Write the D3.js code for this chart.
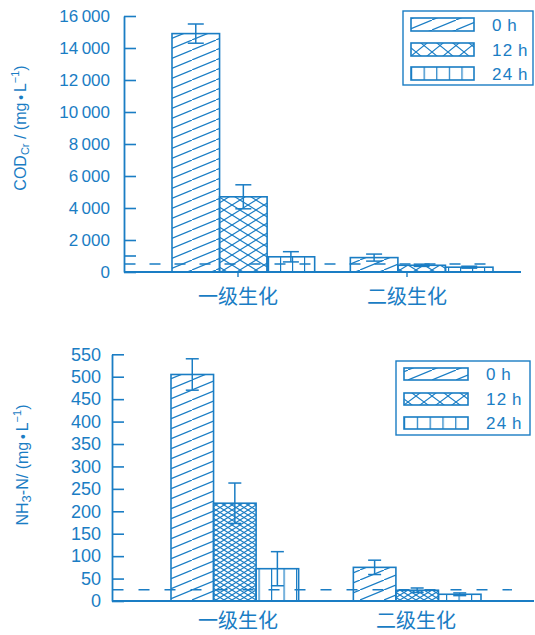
<!DOCTYPE html>
<html>
<head>
<meta charset="utf-8">
<script src="https://cdn.jsdelivr.net/npm/d3@7/dist/d3.min.js"></script>
<style>
  body { margin: 0; background: #fff; }
  svg { display: block; }
  text { fill: #1a7dc4; }
</style>
</head>
<body>
<div id="chart"></div>
<script>
// data
var groups = ["一级生化", "二级生化"];
var times = ["0h", "12h", "24h"];

// COD_Cr (mg/L), per series: [一级, 二级]
var cod0h = [14900, 900];
var cod12h = [4700, 420];
var cod24h = [950, 300];
var codErr0h = [600, 220];
var codErr12h = [750, 70];
var codErr24h = [320, 60];
var codTicks = [0, 2000, 4000, 6000, 8000, 10000, 12000, 14000, 16000];
var codMinorTicks = [1000];
var codLimit = 500;

// NH3-N (mg/L)
var nh0h = [505, 75];
var nh12h = [218, 24];
var nh24h = [72, 15];
var nhErr0h = [35, 16];
var nhErr12h = [45, 5];
var nhErr24h = [38, 3];
var nhTicks = [0, 50, 100, 150, 200, 250, 300, 350, 400, 450, 500, 550];
var nhLimit = 25;

var blue = "#1a7dc4";
var W = 535, H = 635;

var svg = d3.select("#chart").append("svg")
  .attr("width", W)
  .attr("height", H);

var defs = svg.append("defs");

// hatch patterns
function diagPattern(id, w, h) {
  var p = defs.append("pattern").attr("id", id)
    .attr("patternUnits", "userSpaceOnUse")
    .attr("width", w).attr("height", h);
  p.append("line").attr("x1", 0).attr("y1", h).attr("x2", w).attr("y2", 0)
    .attr("stroke", blue).attr("stroke-width", 1.2);
}
function crossPattern(id, w, h) {
  var p = defs.append("pattern").attr("id", id)
    .attr("patternUnits", "userSpaceOnUse")
    .attr("width", w).attr("height", h);
  p.append("line").attr("x1", 0).attr("y1", 0).attr("x2", w).attr("y2", h)
    .attr("stroke", blue).attr("stroke-width", 1.1);
  p.append("line").attr("x1", 0).attr("y1", h).attr("x2", w).attr("y2", 0)
    .attr("stroke", blue).attr("stroke-width", 1.1);
}
function vertPattern(id, w, h, x0) {
  var p = defs.append("pattern").attr("id", id)
    .attr("patternUnits", "userSpaceOnUse")
    .attr("x", x0)
    .attr("width", w).attr("height", h);
  p.append("line").attr("x1", 0.6).attr("y1", 0).attr("x2", 0.6).attr("y2", h)
    .attr("stroke", blue).attr("stroke-width", 1.2);
}

var thin = d3.formatLocale({decimal: ".", thousands: "\u2009", grouping: [3], currency: ["", ""]});
var codFmt = thin.format(",d");

var panels = [
  {
    key: "cod",
    means: [cod0h, cod12h, cod24h],
    errs: [codErr0h, codErr12h, codErr24h],
    ticks: codTicks, minor: codMinorTicks, fmt: codFmt, limit: codLimit,
    yDomain: [0, 16000], yRange: [272, 16],
    axisX: 124, xEnd: 521, barRange: [172, 493], padInner: 0.2,
    tickFont: 17, tickPad: 14, dashEnd: 495, dash: "11,14",
    labelPos: [238, 407], labelBase: 304, xTicks: true,
    cross: [16, 10], vert: 12, capW: 16,
    legend: {x: 403, y: 11, w: 130, h: 74, swX: 411, swW: 63, swH: 13, rows: [18, 43, 67], textX: 492},
    title: {x: 26, y: 128}
  },
  {
    key: "nh",
    means: [nh0h, nh12h, nh24h],
    errs: [nhErr0h, nhErr12h, nhErr24h],
    ticks: nhTicks, minor: [], fmt: d3.format("d"), limit: nhLimit,
    yDomain: [0, 550], yRange: [601, 354.3],
    axisX: 112, xEnd: 534, barRange: [171, 481], padInner: 0.3,
    tickFont: 18, tickPad: 11, dashEnd: 512, dash: "11,15",
    labelPos: [238, 416], labelBase: 628, xTicks: false,
    cross: [8, 5], vert: 12.5, capW: 13,
    legend: {x: 396, y: 361, w: 134, h: 74, swX: 404, swW: 64, swH: 12, rows: [368, 393, 417], textX: 486},
    title: {x: 28, y: 465}
  }
];

panels.forEach(function(p) {
  var y = d3.scaleLinear().domain(p.yDomain).range(p.yRange);
  var x0 = d3.scaleBand().domain(groups).range(p.barRange)
    .paddingInner(p.padInner).paddingOuter(0);
  var x1 = d3.scaleBand().domain(times).range([0, x0.bandwidth()]);

  diagPattern(p.key + "-p0", 24, 10);
  crossPattern(p.key + "-p1", p.cross[0], p.cross[1]);
  vertPattern(p.key + "-p2", p.vert, 10, p.barRange[0]);
  // legend swatch patterns
  diagPattern(p.key + "-l0", 24, 10);
  crossPattern(p.key + "-l1", 16, p.legend.swH);
  vertPattern(p.key + "-l2", p.legend.swW / 5, 10, p.legend.swX);

  var g = svg.append("g");

  var rows = [];
  groups.forEach(function(gr, i) {
    times.forEach(function(t, j) {
      rows.push({g: gr, t: t, j: j, v: p.means[j][i], e: p.errs[j][i]});
    });
  });

  // bars
  g.selectAll("rect.bar")
    .data(rows)
    .enter()
    .append("rect")
    .attr("class", "bar")
    .attr("x", function(d) { return x0(d.g) + x1(d.t); })
    .attr("y", function(d) { return y(d.v); })
    .attr("width", x1.bandwidth())
    .attr("height", function(d) { return y(0) - y(d.v); })
    .attr("fill", function(d) { return "url(#" + p.key + "-p" + d.j + ")"; })
    .attr("stroke", blue)
    .attr("stroke-width", 1.6);

  // limit line
  g.append("line")
    .attr("x1", p.axisX + 0.5).attr("x2", p.dashEnd)
    .attr("y1", y(p.limit)).attr("y2", y(p.limit))
    .attr("stroke", blue).attr("stroke-width", 1.4)
    .attr("stroke-dasharray", p.dash);

  // error bars
  var eb = g.selectAll("g.err")
    .data(rows)
    .enter()
    .append("g")
    .attr("class", "err")
    .attr("transform", function(d) { return "translate(" + (x0(d.g) + x1(d.t) + x1.bandwidth() / 2) + ",0)"; });
  eb.append("line")
    .attr("y1", function(d) { return y(d.v - d.e); })
    .attr("y2", function(d) { return y(d.v + d.e); })
    .attr("stroke", blue).attr("stroke-width", 1.5);
  eb.append("line")
    .attr("x1", -p.capW / 2).attr("x2", p.capW / 2)
    .attr("y1", function(d) { return y(d.v + d.e); })
    .attr("y2", function(d) { return y(d.v + d.e); })
    .attr("stroke", blue).attr("stroke-width", 1.5);
  eb.append("line")
    .attr("x1", -p.capW / 2).attr("x2", p.capW / 2)
    .attr("y1", function(d) { return y(d.v - d.e); })
    .attr("y2", function(d) { return y(d.v - d.e); })
    .attr("stroke", blue).attr("stroke-width", 1.5);

  // y axis, ticks inward
  var yAxis = d3.axisLeft(y)
    .tickValues(p.ticks)
    .tickFormat(p.fmt)
    .tickSize(-12)
    .tickSizeOuter(0)
    .tickPadding(p.tickPad);
  var ya = g.append("g")
    .attr("transform", "translate(" + p.axisX + ",0)")
    .call(yAxis);
  ya.select(".domain").attr("stroke", blue).attr("stroke-width", 1.8);
  ya.selectAll(".tick line").attr("stroke", blue).attr("stroke-width", 1.6);
  ya.selectAll(".tick text")
    .style("font-family", "'Liberation Sans', Arial, sans-serif")
    .style("font-size", p.tickFont + "px")
    .attr("fill", blue);
  p.minor.forEach(function(m) {
    ya.append("line").attr("x1", 0).attr("x2", 12)
      .attr("y1", y(m)).attr("y2", y(m))
      .attr("stroke", blue).attr("stroke-width", 1.6);
  });

  // x baseline
  g.append("line")
    .attr("x1", p.axisX).attr("x2", p.xEnd)
    .attr("y1", y(0)).attr("y2", y(0))
    .attr("stroke", blue).attr("stroke-width", 1.8);

  var xl = d3.scalePoint().domain(groups).range(p.labelPos);
  if (p.xTicks) {
    g.selectAll("line.xt")
      .data(groups)
      .enter()
      .append("line")
      .attr("x1", function(d) { return xl(d); })
      .attr("x2", function(d) { return xl(d); })
      .attr("y1", y(0)).attr("y2", y(0) + 5)
      .attr("stroke", blue).attr("stroke-width", 1.4);
  }
  g.selectAll("text.xl")
    .data(groups)
    .enter()
    .append("text")
    .attr("x", function(d) { return xl(d); })
    .attr("y", p.labelBase)
    .attr("text-anchor", "middle")
    .style("font-family", "'Noto Sans CJK SC', sans-serif")
    .style("font-size", "20px")
    .text(function(d) { return d; });

  // y title
  var t = g.append("text")
    .attr("transform", "translate(" + p.title.x + "," + p.title.y + ") rotate(-90)")
    .attr("text-anchor", "middle")
    .style("font-family", "'Liberation Sans', Arial, sans-serif")
    .style("font-size", "16px");
  if (p.key == "cod") {
    t.append("tspan").text("COD");
    t.append("tspan").attr("dy", 3).style("font-size", "11px").text("Cr");
    t.append("tspan").attr("dy", -3).text(" / (mg");
  } else {
    t.append("tspan").text("NH");
    t.append("tspan").attr("dy", 3).style("font-size", "13px").text("3");
    t.append("tspan").attr("dy", -3).text("-N/ (mg");
  }
  t.append("tspan").style("font-size", "14px").text("\u2009•\u2009");
  t.append("tspan").text("L");
  t.append("tspan").attr("dy", -7).style("font-size", "11px").text("\u22121");
  t.append("tspan").attr("dy", 7).text(")");

  // legend
  var L = p.legend;
  g.append("rect")
    .attr("x", L.x).attr("y", L.y).attr("width", L.w).attr("height", L.h)
    .attr("fill", "#fff").attr("stroke", blue).attr("stroke-width", 1.4);
  times.forEach(function(tm, j) {
    g.append("rect")
      .attr("x", L.swX).attr("y", L.rows[j])
      .attr("width", L.swW).attr("height", L.swH)
      .attr("fill", "url(#" + p.key + "-l" + j + ")")
      .attr("stroke", blue).attr("stroke-width", 1.6);
    g.append("text")
      .attr("x", L.textX).attr("y", L.rows[j] + L.swH)
      .style("font-family", "'Liberation Sans', Arial, sans-serif")
      .style("font-size", "17px")
      .style("letter-spacing", "1.2px")
      .text(tm.replace("h", "\u2009h"));
  });
});
</script>
</body>
</html>
